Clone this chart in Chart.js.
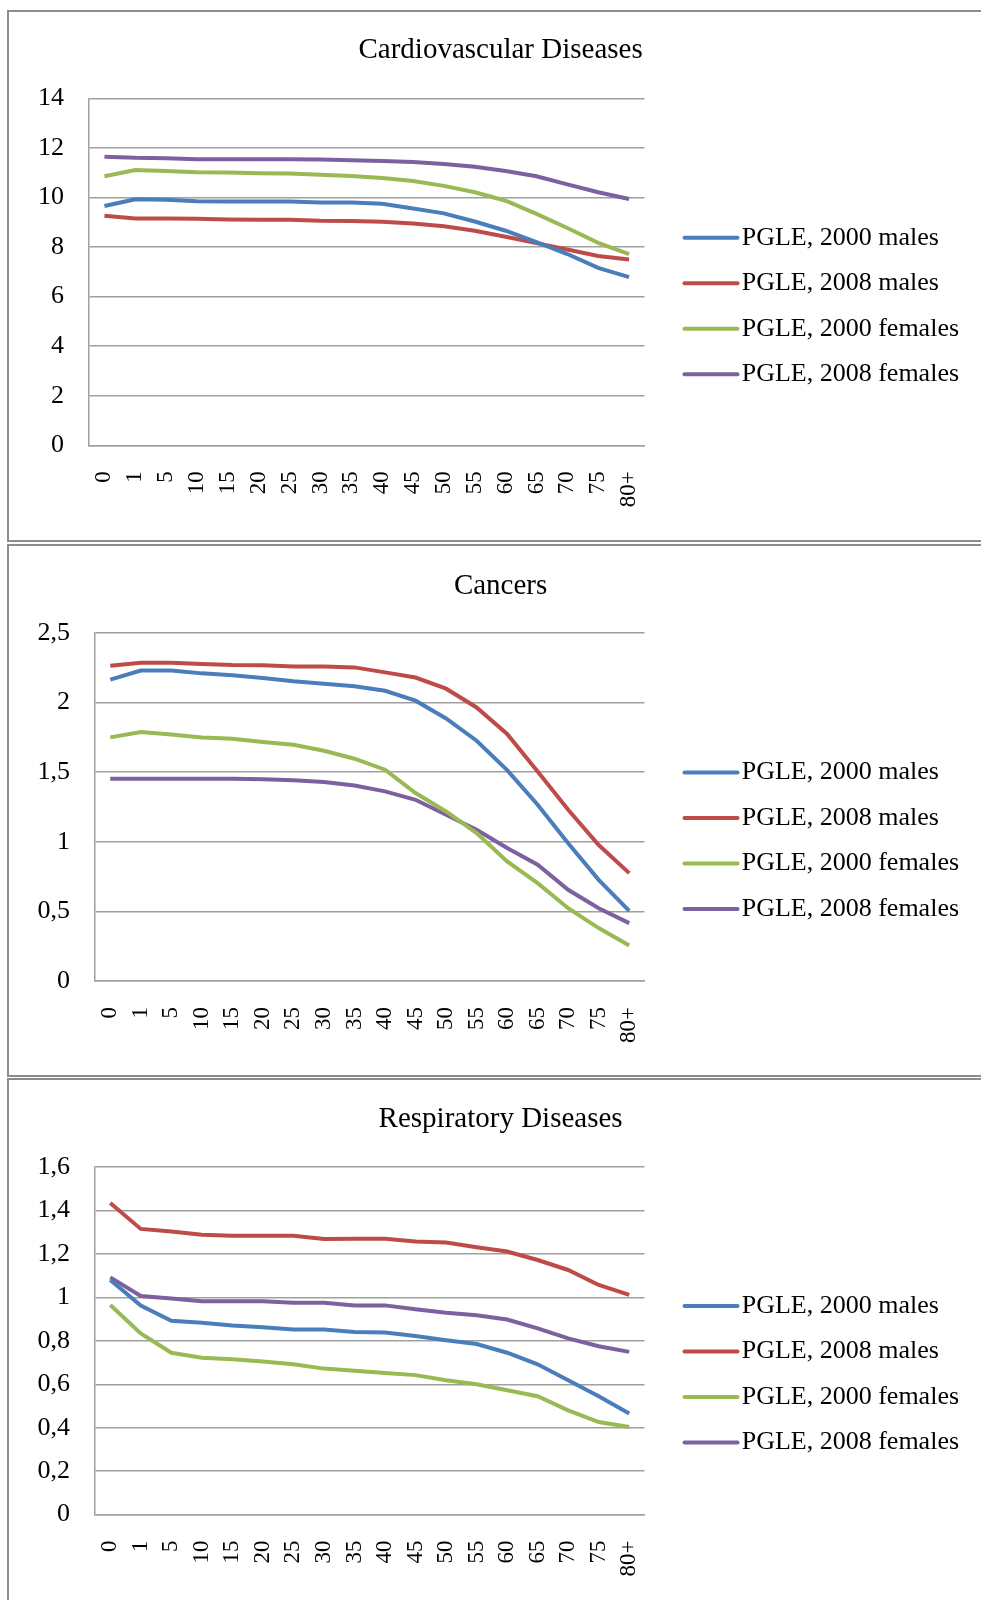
<!DOCTYPE html>
<html>
<head>
<meta charset="utf-8">
<script src="https://cdn.jsdelivr.net/npm/chart.js@4.4.1/dist/chart.umd.min.js"></script>
<style>
html, body { margin: 0; padding: 0; background: #fff; overflow: hidden; width: 981px; height: 1600px; }
.frame { position: absolute; border: 2px solid #8c8c8c; box-sizing: border-box; }
canvas { position: absolute; left: 0; }
</style>
</head>
<body>
<div class="frame" style="left:7px;top:10px;width:1000px;height:532px"></div>
<div class="frame" style="left:7px;top:544px;width:1000px;height:533px"></div>
<div class="frame" style="left:7px;top:1078px;width:1000px;height:600px"></div>
<canvas id="c1" width="981" height="590" style="top:0px"></canvas>
<canvas id="c2" width="981" height="579" style="top:540px"></canvas>
<canvas id="c3" width="981" height="576" style="top:1075px"></canvas>
<script>
// ---- data ----
const ageGroups = ['0','1','5','10','15','20','25','30','35','40','45','50','55','60','65','70','75','80+'];
const seriesNames = ['PGLE, 2000 males', 'PGLE, 2008 males', 'PGLE, 2000 females', 'PGLE, 2008 females'];

const cvdTitle = 'Cardiovascular Diseases';
const cvdMales2000   = [9.66, 9.93, 9.91, 9.85, 9.84, 9.84, 9.84, 9.80, 9.80, 9.75, 9.56, 9.36, 9.03, 8.66, 8.20, 7.72, 7.16, 6.79];
const cvdMales2008   = [9.26, 9.15, 9.15, 9.14, 9.11, 9.10, 9.10, 9.06, 9.05, 9.02, 8.95, 8.84, 8.66, 8.42, 8.16, 7.90, 7.64, 7.50];
const cvdFemales2000 = [10.86, 11.11, 11.07, 11.02, 11.01, 10.98, 10.97, 10.92, 10.87, 10.79, 10.67, 10.47, 10.21, 9.87, 9.34, 8.77, 8.17, 7.72];
const cvdFemales2008 = [11.65, 11.60, 11.58, 11.54, 11.54, 11.54, 11.54, 11.53, 11.50, 11.47, 11.43, 11.35, 11.24, 11.07, 10.86, 10.53, 10.21, 9.94];
const cvdYTicks = ['0', '2', '4', '6', '8', '10', '12', '14'];

const cancerTitle = 'Cancers';
const cancerMales2000   = [2.165, 2.23, 2.23, 2.21, 2.196, 2.177, 2.153, 2.136, 2.117, 2.085, 2.014, 1.886, 1.726, 1.515, 1.266, 0.99, 0.727, 0.504];
const cancerMales2008   = [2.265, 2.287, 2.287, 2.278, 2.27, 2.268, 2.26, 2.26, 2.253, 2.217, 2.18, 2.1, 1.965, 1.775, 1.505, 1.23, 0.977, 0.775];
const cancerFemales2000 = [1.75, 1.788, 1.77, 1.75, 1.74, 1.717, 1.697, 1.654, 1.597, 1.518, 1.35, 1.218, 1.063, 0.859, 0.703, 0.523, 0.38, 0.255];
const cancerFemales2008 = [1.453, 1.453, 1.453, 1.453, 1.453, 1.45, 1.443, 1.429, 1.405, 1.362, 1.302, 1.194, 1.087, 0.955, 0.835, 0.655, 0.523, 0.416];
const cancerYTicks = ['0', '0,5', '1', '1,5', '2', '2,5'];

const respTitle = 'Respiratory Diseases';
const respMales2000   = [1.08, 0.962, 0.892, 0.883, 0.87, 0.862, 0.852, 0.852, 0.84, 0.838, 0.822, 0.803, 0.785, 0.745, 0.692, 0.618, 0.545, 0.465];
const respMales2008   = [1.434, 1.315, 1.303, 1.288, 1.283, 1.283, 1.283, 1.269, 1.27, 1.27, 1.257, 1.252, 1.231, 1.211, 1.172, 1.126, 1.057, 1.011];
const respFemales2000 = [0.965, 0.834, 0.745, 0.722, 0.715, 0.705, 0.692, 0.672, 0.662, 0.652, 0.642, 0.618, 0.6, 0.572, 0.545, 0.48, 0.426, 0.403];
const respFemales2008 = [1.092, 1.006, 0.995, 0.982, 0.982, 0.982, 0.975, 0.975, 0.963, 0.963, 0.945, 0.929, 0.918, 0.898, 0.857, 0.811, 0.775, 0.749];
const respYTicks = ['0', '0,2', '0,4', '0,6', '0,8', '1', '1,2', '1,4', '1,6'];

// ---- styling ----
const SERIF = "'Liberation Serif', 'Times New Roman', serif";
const LINE_COLORS = ['#4A7EBB', '#BE4B48', '#98B954', '#7D60A0'];
const GRID = '#a0a0a0';

// Right-hand legend: a layout box that reserves the space to the right of the plot
// and draws a line sample + label for each dataset of the chart.
function makeSideLegend(cfg) {
  return {
    id: 'sideLegend',
    beforeInit(chart) {
      const box = {
        position: 'right', weight: 0, fullSize: false,
        options: { display: true },
        left: 0, top: 0, right: 0, bottom: 0, width: 0, height: 0,
        isHorizontal() { return false; },
        update(maxWidth, maxHeight) { this.width = cfg.width; this.height = maxHeight; },
        getPadding() { return { left: 0, top: 0, right: 0, bottom: 0 }; },
        draw() {
          const ctx = chart.ctx;
          ctx.save();
          chart.data.datasets.forEach((ds, i) => {
            const y = cfg.y0 + i * cfg.step;
            ctx.strokeStyle = ds.borderColor;
            ctx.lineWidth = 4;
            ctx.lineCap = 'round';
            ctx.beginPath();
            ctx.moveTo(this.left + cfg.lineStart, y);
            ctx.lineTo(this.left + cfg.lineEnd, y);
            ctx.stroke();
            ctx.fillStyle = '#000';
            ctx.font = '26px ' + SERIF;
            ctx.textAlign = 'left';
            ctx.textBaseline = 'middle';
            ctx.fillText(ds.label, this.left + cfg.textStart, y);
          });
          ctx.restore();
        }
      };
      Chart.layouts.addBox(chart, box);
    }
  };
}

function buildChart(id, p) {
  return new Chart(document.getElementById(id), {
    type: 'line',
    data: {
      labels: ageGroups,
      datasets: p.series.map((vals, i) => ({
        label: seriesNames[i],
        data: vals,
        borderColor: LINE_COLORS[i],
        backgroundColor: LINE_COLORS[i],
        borderWidth: 4,
        pointRadius: 0,
        tension: 0,
        fill: false
      }))
    },
    plugins: [makeSideLegend({ width: 336.5, lineStart: 40, lineEnd: 93, textStart: 97.2, y0: p.legendY, step: 45.5 })],
    options: {
      responsive: false,
      animation: false,
      devicePixelRatio: 1,
      layout: { padding: { left: 20.2, right: 0, top: 20, bottom: 0 } },
      plugins: {
        title: {
          display: true, text: p.title, color: '#000',
          font: { family: SERIF, size: 29, weight: 'normal' },
          padding: { top: p.tPadTop, bottom: p.tPadBottom }
        },
        legend: { display: false },
        tooltip: { enabled: false }
      },
      scales: {
        x: {
          offset: true,
          grid: { display: false, drawTicks: false },
          border: { display: true, color: GRID, width: 1.5 },
          ticks: { color: '#000', font: { family: SERIF, size: 23 }, minRotation: 90, maxRotation: 90, autoSkip: false, padding: 26 },
          afterFit: s => { s.height = p.xHeight; }
        },
        y: {
          min: 0, max: p.yMax,
          ticks: { stepSize: p.yStep, color: '#000', font: { family: SERIF, size: 26 }, padding: 25,
                   callback: (v, i) => p.yLabels[i] },
          grid: { color: GRID, lineWidth: 1.5, drawTicks: false },
          border: { display: true, color: GRID, width: 1.5 },
          afterFit: s => { s.width = p.yWidth; }
        }
      }
    }
  });
}

buildChart('c1', {
  title: cvdTitle,
  series: [cvdMales2000, cvdMales2008, cvdFemales2000, cvdFemales2008],
  yMax: 14, yStep: 2, yLabels: cvdYTicks,
  yWidth: 68.8, xHeight: 144.7, tPadTop: 12.8, tPadBottom: 30.8, legendY: 237.7
});
buildChart('c2', {
  title: cancerTitle,
  series: [cancerMales2000, cancerMales2008, cancerFemales2000, cancerFemales2008],
  yMax: 2.5, yStep: 0.5, yLabels: cancerYTicks,
  yWidth: 74.8, xHeight: 138, tPadTop: 8.6, tPadBottom: 29.6, legendY: 232.5
});
buildChart('c3', {
  title: respTitle,
  series: [respMales2000, respMales2008, respFemales2000, respFemales2008],
  yMax: 1.6, yStep: 0.2, yLabels: respYTicks,
  yWidth: 74.8, xHeight: 136.4, tPadTop: 7.3, tPadBottom: 29.9, legendY: 231
});
</script>
</body>
</html>
